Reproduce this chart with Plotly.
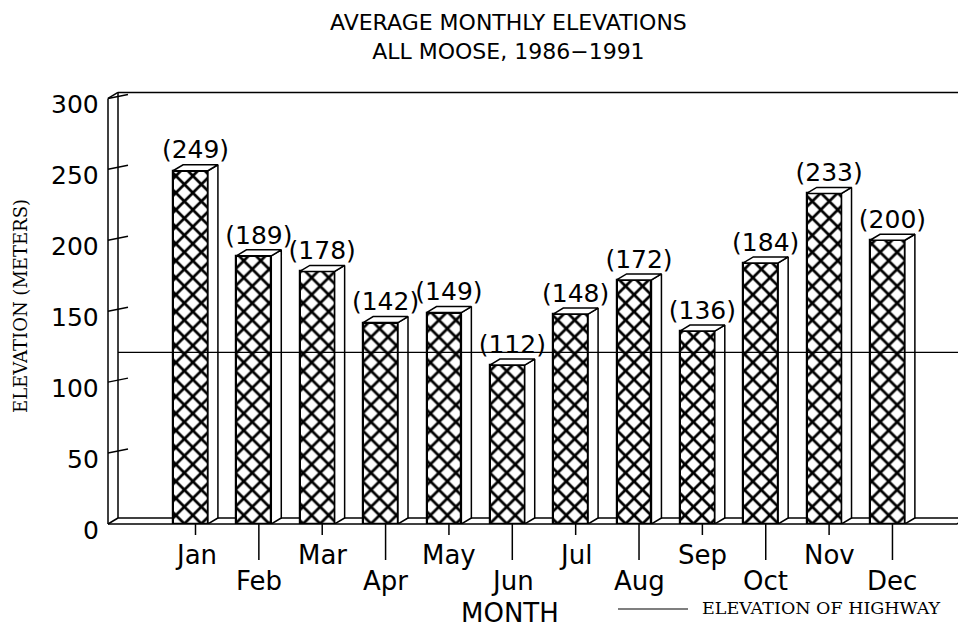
import plotly.graph_objects as go

# ---------------- data ----------------
months = ["Jan", "Feb", "Mar", "Apr", "May", "Jun",
          "Jul", "Aug", "Sep", "Oct", "Nov", "Dec"]
elevations = [249, 189, 178, 142, 149, 112, 148, 172, 136, 184, 233, 200]
highway_elevation = 121
y_ticks = [0, 50, 100, 150, 200, 250, 300]

# ---------------- geometry ----------------
OFF = 8                          # page body margin of the browser
W, H = 966 - OFF, 632 - OFF
ML, MR, MT, MB = 108 - OFF, 0, 91 - OFF, 108
PW, PH = W - ML - MR, H - MT - MB
PX_PER_X = 63.36                 # pixels per category step
PX_PER_Y = 1.4187                # pixels per metre
XMIN = -(190.5 - 108) / PX_PER_X
XMAX = XMIN + PW / PX_PER_X
YMAX = PH / PX_PER_Y
BAR_W = 0.55
DX = 10 / PX_PER_X               # depth offset (x)
DY = 6 / PX_PER_Y                # depth offset (y)


def xp(x):
    return (x - XMIN) / (XMAX - XMIN)


def yp(v):
    return v / YMAX


def px2xp(px):                   # window px -> paper x
    return (px - OFF - ML) / PW


def px2yp(py):                   # window px -> paper y
    return (MT + PH - (py - OFF)) / PH


idx = list(range(len(months)))
fig = go.Figure()

# front faces
fig.add_trace(go.Bar(
    x=idx, y=elevations, width=BAR_W,
    marker=dict(color="white",
                line=dict(color="black", width=2.2),
                pattern=dict(shape="x", fgcolor="black", bgcolor="white",
                             fgopacity=1, size=12, solidity=0.4)),
    showlegend=False, hoverinfo="skip"))

# side and top faces
sx, sy, tx, ty = [], [], [], []
for i, v in zip(idx, elevations):
    r = i + BAR_W / 2
    l = i - BAR_W / 2
    sx += [r, r + DX, r + DX, r, r, None]
    sy += [0, DY, v + DY, v, 0, None]
    tx += [l, l + DX, r + DX, r, l, None]
    ty += [v, v + DY, v + DY, v, v, None]
fig.add_trace(go.Scatter(x=sx, y=sy, mode="lines", fill="toself",
                         fillcolor="white", line=dict(color="black", width=1.5),
                         showlegend=False, hoverinfo="skip"))
fig.add_trace(go.Scatter(x=tx, y=ty, mode="lines", fill="toself",
                         fillcolor="white", line=dict(color="black", width=1.5),
                         showlegend=False, hoverinfo="skip"))

SANS = "DejaVu Sans, Arial, sans-serif"
SERIF = "DejaVu Serif, Times New Roman, serif"

# value labels
fig.add_trace(go.Scatter(
    x=[i + DX / 2 for i in idx], y=[v + DY for v in elevations],
    mode="text", text=[f"({v})" for v in elevations],
    textposition="top center",
    textfont=dict(family=SANS, size=25, color="black"),
    showlegend=False, hoverinfo="skip", cliponaxis=False))

shapes = []
L = dict(color="black", width=1.5)
bx = px2xp(118)
# left wall
shapes.append(dict(type="line", xref="paper", yref="paper", x0=0, x1=0,
                   y0=0, y1=yp(300), line=L, layer="below"))
shapes.append(dict(type="line", xref="paper", yref="paper", x0=bx, x1=bx,
                   y0=yp(DY), y1=yp(300 + DY), line=L, layer="below"))
shapes.append(dict(type="line", xref="paper", yref="paper", x0=0, x1=bx,
                   y0=yp(300), y1=yp(300 + DY), line=L, layer="below"))
shapes.append(dict(type="line", xref="paper", yref="paper", x0=0, x1=bx,
                   y0=0, y1=yp(DY), line=L, layer="below"))
# back top line
shapes.append(dict(type="line", xref="paper", yref="paper", x0=bx, x1=1.0,
                   y0=yp(300 + DY), y1=yp(300 + DY), line=L, layer="below"))
# floor
fr = px2xp(957)
shapes.append(dict(type="line", xref="paper", yref="paper", x0=0, x1=fr,
                   y0=0, y1=0, line=L, layer="below"))
shapes.append(dict(type="line", xref="paper", yref="paper", x0=bx, x1=1.0,
                   y0=yp(DY), y1=yp(DY), line=L, layer="below"))
shapes.append(dict(type="line", xref="paper", yref="paper", x0=fr, x1=1.0,
                   y0=0, y1=yp(DY) * 0.9, line=L, layer="below"))
# y ticks (slanted)
for t in y_ticks[1:]:
    shapes.append(dict(type="line", xref="paper", yref="paper",
                       x0=0, x1=px2xp(128),
                       y0=yp(t), y1=yp(t) + 4 / PH, line=L, layer="below"))
# x ticks
for i in idx:
    ylow = -11 / PH if i % 2 == 0 else -36 / PH
    shapes.append(dict(type="line", xref="paper", yref="paper",
                       x0=xp(i + DX / 2), x1=xp(i + DX / 2),
                       y0=0, y1=ylow, line=L))
# highway line
shapes.append(dict(type="line", xref="paper", yref="paper", x0=bx, x1=1.0,
                   y0=yp(highway_elevation), y1=yp(highway_elevation),
                   line=dict(color="black", width=1.2), layer="above"))
# legend line
shapes.append(dict(type="line", xref="paper", yref="paper",
                   x0=px2xp(618), x1=px2xp(688),
                   y0=px2yp(609), y1=px2yp(609),
                   line=dict(color="black", width=1.2)))

ann = []
for t in y_ticks:
    ann.append(dict(x=0, y=t, xref="paper", yref="y", text=str(t),
                    showarrow=False, xanchor="right", yanchor="middle",
                    xshift=-7, yshift=-6,
                    font=dict(family=SANS, size=25, color="black")))
for i, m in zip(idx, months):
    ann.append(dict(x=i + DX / 2, y=0, xref="x", yref="paper", text=m,
                    showarrow=False, xanchor="center", yanchor="middle",
                    yshift=-31 if i % 2 == 0 else -57,
                    font=dict(family=SANS, size=26, color="black")))
ann.append(dict(x=px2xp(510), y=px2yp(613), xref="paper", yref="paper",
                text="MONTH", showarrow=False, xanchor="center",
                yanchor="middle",
                font=dict(family=SANS, size=26, color="black")))
ann.append(dict(x=px2xp(700), y=px2yp(608), xref="paper", yref="paper",
                text="ELEVATION OF HIGHWAY", showarrow=False, xanchor="left",
                yanchor="middle",
                font=dict(family=SERIF, size=17.5, color="black")))
ann.append(dict(x=px2xp(20), y=px2yp(306), xref="paper", yref="paper",
                text="ELEVATION (METERS)", showarrow=False, textangle=-90,
                xanchor="center", yanchor="middle",
                font=dict(family=SERIF, size=18, color="black")))
ann.append(dict(x=px2xp(508), y=px2yp(37), xref="paper", yref="paper",
                text="AVERAGE MONTHLY ELEVATIONS<br>ALL MOOSE, 1986\u22121991",
                showarrow=False, xanchor="center", yanchor="middle",
                font=dict(family=SANS, size=22, color="black")))

fig.update_layout(
    width=W, height=H,
    margin=dict(l=ML, r=MR, t=MT, b=MB),
    paper_bgcolor="white", plot_bgcolor="white",
    xaxis=dict(range=[XMIN, XMAX], visible=False, fixedrange=True),
    yaxis=dict(range=[0, YMAX], visible=False, fixedrange=True),
    bargap=0, showlegend=False,
    shapes=shapes, annotations=ann,
)

fig.write_html("out.html")
